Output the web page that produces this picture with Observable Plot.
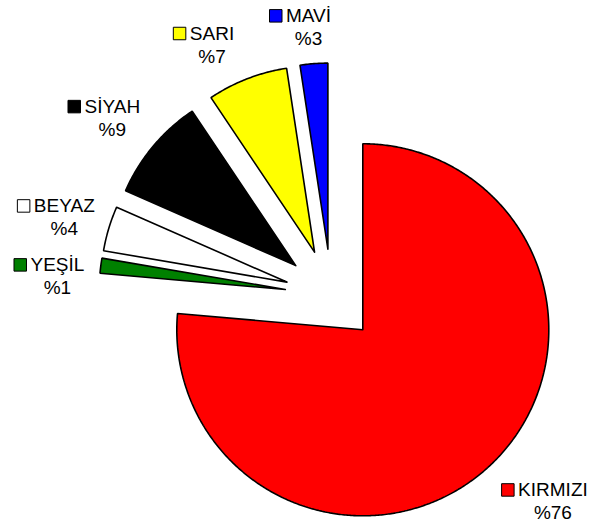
<!DOCTYPE html>
<html><head><meta charset="utf-8">
<script src="https://cdn.jsdelivr.net/npm/d3@7"></script>
<script src="https://cdn.jsdelivr.net/npm/@observablehq/plot@0.6"></script>
<style>body{margin:0;background:#fff}</style>
</head><body><div id="chart"></div>
<script>
// ---- data ----
const names = ["KIRMIZI", "YEŞİL", "BEYAZ", "SİYAH", "SARI", "MAVİ"];
const values = [76.4, 1.3, 3.9, 9.0, 7.0, 2.4];
const pctLabels = ["%76", "%1", "%4", "%9", "%7", "%3"];
const colors = ["#ff0000", "#008000", "#ffffff", "#000000", "#ffff00", "#0000ff"];

// ---- layout (pie units: radius = 1, origin = pie centre) ----
const W = 593, H = 526;
const pxPerUnit = 186;          // pie radius in px
const centrePx = [330.9, 295];  // pie centre in px
const explode = 0.25;
const labelAnchors = [[1.191, -1.079], [-1.473, 0.131], [-1.436, 0.448], [-1.178, 0.982], [-0.642, 1.375], [-0.123, 1.470]];
const fontSize = 19, fontFamily = '"Liberation Sans", Arial, sans-serif';
const lineGap = 23, keySide = 12.5, keyGap = 4;

const total = d3.sum(values);
let acc = 0;
const pts = [];
names.forEach((n, i) => {
  const a0 = acc / total * 2 * Math.PI; acc += values[i]; const a1 = acc / total * 2 * Math.PI;
  const mid = (a0 + a1) / 2;
  const cx = explode * Math.sin(mid), cy = explode * Math.cos(mid);
  pts.push({name: n, x: cx, y: cy, color: colors[i]});
  const steps = Math.max(2, Math.ceil((a1 - a0) / (Math.PI / 360)));
  for (let k = 0; k <= steps; k++) {
    const a = a0 + (a1 - a0) * k / steps;
    pts.push({name: n, x: cx + Math.sin(a), y: cy + Math.cos(a), color: colors[i]});
  }
  pts.push({name: n, x: cx, y: cy, color: colors[i]});
});

const ctx = document.createElement("canvas").getContext("2d");
ctx.font = `${fontSize}px ${fontFamily}`;
const labels = names.map((n, i) => {
  const [ux, uy] = labelAnchors[i];
  const w = ctx.measureText(n).width;
  return {
    name: n, pct: pctLabels[i], color: colors[i],
    x: ux, y: uy,
    y2: uy - lineGap / pxPerUnit,
    kx: ux - (w / 2 + keyGap + keySide / 2) / pxPerUnit,
    ky: uy + (keySide / 2) / pxPerUnit
  };
});

const chart = Plot.plot({
  width: W, height: H,
  margin: 0,
  x: {domain: [-centrePx[0] / pxPerUnit, (W - centrePx[0]) / pxPerUnit], axis: null},
  y: {domain: [(centrePx[1] - H) / pxPerUnit, centrePx[1] / pxPerUnit], axis: null},
  style: {background: "#fff"},
  marks: [
    Plot.line(pts, {x: "x", y: "y", z: "name", fill: "color", stroke: "#000", strokeWidth: 1.6, strokeLinejoin: "miter", curve: "linear"}),
    Plot.dot(labels, {x: "kx", y: "ky", symbol: "square", r: keySide / Math.sqrt(Math.PI), fill: "color", stroke: "#000", strokeWidth: 1}),
    Plot.text(labels, {x: "x", y: "y", text: "name", lineAnchor: "bottom", fontSize, fontFamily, fill: "#000"}),
    Plot.text(labels, {x: "x", y: "y2", text: "pct", lineAnchor: "bottom", fontSize, fontFamily, fill: "#000"})
  ]
});
document.getElementById("chart").appendChild(chart);
</script>
</body></html>
